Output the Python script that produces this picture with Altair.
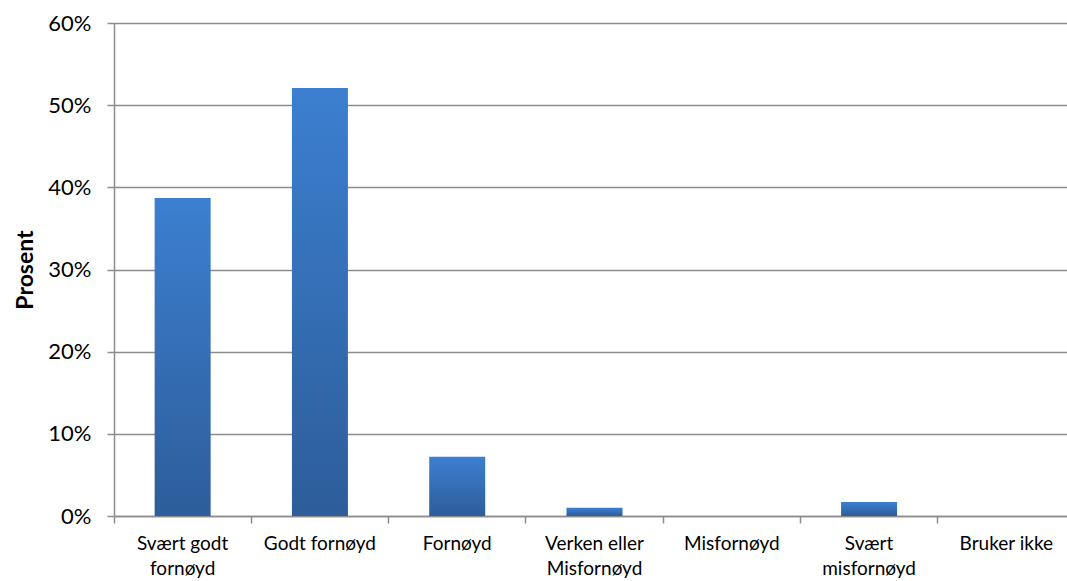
import altair as alt
import pandas as pd

# Survey answers and the share of respondents for each
categories = [
    "Svært godt\nfornøyd",
    "Godt fornøyd",
    "Fornøyd",
    "Verken eller\nMisfornøyd",
    "Misfornøyd",
    "Svært\nmisfornøyd",
    "Bruker ikke",
]
shares = [0.387, 0.521, 0.072, 0.010, 0.0, 0.017, 0.0]

df = pd.DataFrame({"svar": categories, "andel": shares})

FONT = "Lato"
GRID = "#8c8c8c"

bar_fill = alt.Gradient(
    gradient="linear",
    x1=0, y1=0, x2=0, y2=1,
    stops=[
        alt.GradientStop(color="#3c7fd0", offset=0),
        alt.GradientStop(color="#2d5d9a", offset=1),
    ],
)

chart = (
    alt.Chart(df)
    .mark_bar(size=56, color=bar_fill)
    .encode(
        x=alt.X(
            "svar:N",
            sort=categories,
            title=None,
            scale=alt.Scale(range=[0, 961], paddingInner=0, paddingOuter=0),
            axis=alt.Axis(
                labelAngle=0,
                labelExpr="split(datum.value, '\\n')",
                labelFont=FONT,
                labelFontSize=19,
                labelColor="#000000",
                labelLineHeight=25,
                labelPadding=11,
                labelBaseline="top",
                bandPosition=0,
                tickSize=7,
                tickColor=GRID,
                tickWidth=1.5,
                domainColor=GRID,
                domainWidth=1.5,
                grid=False,
            ),
        ),
        y=alt.Y(
            "andel:Q",
            title="Prosent",
            scale=alt.Scale(domain=[0, 0.6]),
            axis=alt.Axis(
                format=".0%",
                values=[0, 0.1, 0.2, 0.3, 0.4, 0.5, 0.6],
                labelFont=FONT,
                labelFontSize=22,
                labelColor="#000000",
                labelPadding=16,
                tickSize=7,
                tickColor=GRID,
                tickWidth=1.5,
                domainColor=GRID,
                domainWidth=1.5,
                gridColor=GRID,
                gridWidth=1.5,
                titleFont=FONT,
                titleFontSize=23,
                titleFontWeight="bold",
                titleColor="#000000",
                titlePadding=10,
            ),
        ),
    )
    .properties(
        width=953,
        height=493,
        autosize=alt.AutoSizeParams(type="none"),
        padding={"left": 114, "top": 23, "right": 0, "bottom": 65},
    )
    .configure_view(stroke=None)
    .configure(background="#ffffff")
)

chart.save("out.html", embed_options={"renderer": "svg", "actions": False})
